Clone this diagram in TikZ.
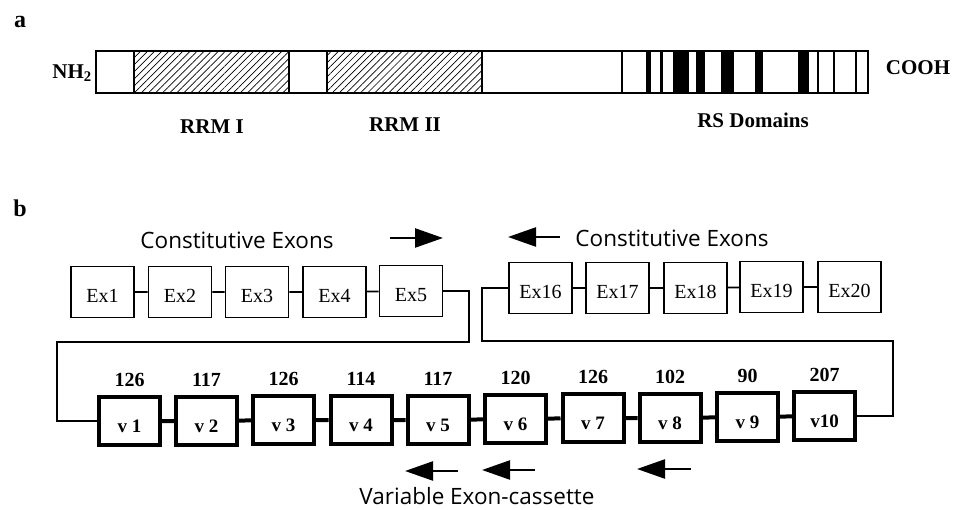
\documentclass[tikz,border=0pt]{standalone}
\usepackage{fontspec}
\setmainfont{Liberation Serif}
\newfontfamily\exonsans{Open Sans}
\usetikzlibrary{arrows.meta,patterns.meta}
\begin{document}
\begin{tikzpicture}[x=1pt,y=-1pt]
	\tikzstyle{exon}=[draw,line width=1.8pt,minimum width=63pt,minimum height=51pt,inner sep=0pt,text height=21pt,text depth=0pt,font=\fontsize{20}{24}\selectfont];
	\tikzstyle{varexon}=[draw,line width=4pt,minimum width=61pt,minimum height=47pt,inner sep=0pt,text height=23pt,text depth=0pt,font=\fontsize{19}{22}\selectfont\bfseries];
	\tikzstyle{size}=[inner sep=0pt,font=\fontsize{20}{24}\selectfont\bfseries];
	\tikzstyle{domainlabel}=[inner sep=0pt,font=\fontsize{21}{25}\selectfont\bfseries];
	\tikzstyle{partlabel}=[inner sep=0pt,font=\fontsize{24}{28}\selectfont\bfseries];
	\tikzstyle{headline}=[inner sep=0pt,font=\fontsize{22.5}{27}\selectfont\exonsans];
	\tikzstyle{dirarrow}=[line width=2.4pt,-{Triangle[length=28pt,width=19pt]}];
	\tikzstyle{link}=[line width=1.6pt];
	\tikzstyle{hatch}=[pattern={Lines[angle=45,distance=5pt,line width=0.7pt]}];
%<--------------------------------------------------------------------------->%
	\useasboundingbox (0,0) rectangle (953,510);
	%% a: protein
	\node[partlabel] (parta) at (20,22) {a};
	\draw[line width=2pt] (96,51) rectangle (868,93);
	\draw[line width=2pt,hatch] (134,51) rectangle (289,93);
	\draw[line width=2pt,hatch] (327,51) rectangle (482,93);
	\draw[line width=1.6pt] (622,51) -- (622,93);
	\fill (646,51) rectangle (651,93);
	\fill (660,51) rectangle (663,93);
	\fill (673,51) rectangle (689,93);
	\fill (696,51) rectangle (705,93);
	\fill (721,51) rectangle (734,93);
	\fill (755,51) rectangle (763,93);
	\fill (798,51) rectangle (809,93);
	\draw[line width=1.6pt] (818,51) -- (818,93);
	\draw[line width=1.6pt] (834,51) -- (834,93);
	\draw[line width=1.6pt] (856,51) -- (856,93);
	\node[domainlabel,anchor=east] (nterm) at (92,73) {NH\textsubscript{2}};
	\node[domainlabel] (cterm) at (918,68) {COOH};
	\node[domainlabel] (rrm1) at (212,127) {RRM I};
	\node[domainlabel] (rrm2) at (405,125) {RRM II};
	\node[domainlabel] (rs) at (753,120) {RS Domains};
	%% b: gene
	\node[partlabel] (partb) at (20,208) {b};
	\node[headline] (constleft) at (237,240) {Constitutive Exons};
	\node[headline] (constright) at (672,238) {Constitutive Exons};
	\coordinate (al1) at (390,238);
	\coordinate (al2) at (443,238);
	\coordinate (ar1) at (560,237);
	\coordinate (ar2) at (508,237);
	\draw[dirarrow] (al1) -- (al2);
	\draw[dirarrow] (ar1) -- (ar2);
	\node[exon] (ex1)  at (102.5,292) {Ex1};
	\node[exon] (ex2)  at (180,292) {Ex2};
	\node[exon] (ex3)  at (257,292) {Ex3};
	\node[exon] (ex4)  at (334.5,292) {Ex4};
	\node[exon] (ex5)  at (411,291) {Ex5};
	\node[exon] (ex16) at (540.5,288) {Ex16};
	\node[exon] (ex17) at (617.5,288) {Ex17};
	\node[exon] (ex18) at (695.5,288) {Ex18};
	\node[exon] (ex19) at (771.5,287) {Ex19};
	\node[exon] (ex20) at (849.5,287) {Ex20};
	\draw[line width=1.8pt] (ex1) -- (ex2) (ex2) -- (ex3) (ex3) -- (ex4) (ex4) -- (ex5);
	\draw[line width=1.8pt] (ex16) -- (ex17) (ex17) -- (ex18) (ex18) -- (ex19) (ex19) -- (ex20);
	\node[varexon] (v1)  at (129.5,421) {v 1};
	\node[varexon] (v2)  at (206.5,421) {v 2};
	\node[varexon] (v3)  at (283.5,420) {v 3};
	\node[varexon] (v4)  at (361,420) {v 4};
	\node[varexon] (v5)  at (438,420) {v 5};
	\node[varexon] (v6)  at (515.5,419) {v 6};
	\node[varexon] (v7)  at (593,418) {v 7};
	\node[varexon] (v8)  at (670,418) {v 8};
	\node[varexon] (v9)  at (747.5,417) {v 9};
	\node[varexon] (v10) at (824.5,416) {v10};
	\draw[line width=4pt] (v1) -- (v2) (v2) -- (v3) (v3) -- (v4) (v4) -- (v5) (v5) -- (v6)
		(v6) -- (v7) (v7) -- (v8) (v8) -- (v9) (v9) -- (v10);
	\node[size,above=9pt] (len1)  at (v1.north)  {126};
	\node[size,above=9pt] (len2)  at (v2.north)  {117};
	\node[size,above=9pt] (len3)  at (v3.north)  {126};
	\node[size,above=9pt] (len4)  at (v4.north)  {114};
	\node[size,above=9pt] (len5)  at (v5.north)  {117};
	\node[size,above=9pt] (len6)  at (v6.north)  {120};
	\node[size,above=9pt] (len7)  at (v7.north)  {126};
	\node[size,above=9pt] (len8)  at (v8.north)  {102};
	\node[size,above=9pt] (len9)  at (v9.north)  {90};
	\node[size,above=9pt] (len10) at (v10.north) {207};
	%% splicing route
	\coordinate (l1) at (469,342);
	\coordinate (l2) at (57,342);
	\coordinate (r1) at (482,341);
	\coordinate (r2) at (893,341);
	\draw[link] (ex5.east) -| (l1) -- (l2) |- (v1.west);
	\draw[link] (ex16.west) -| (r1) -- (r2) |- (v10.east);
	%% cassette direction
	\coordinate (b1) at (458,471);
	\coordinate (b2) at (405,471);
	\coordinate (b3) at (535,470);
	\coordinate (b4) at (482,470);
	\coordinate (b5) at (691,469);
	\coordinate (b6) at (637,469);
	\draw[dirarrow] (b1) -- (b2);
	\draw[dirarrow] (b3) -- (b4);
	\draw[dirarrow] (b5) -- (b6);
	\node[headline] (cassette) at (477,496) {Variable Exon-cassette};
\end{tikzpicture}
\end{document}
